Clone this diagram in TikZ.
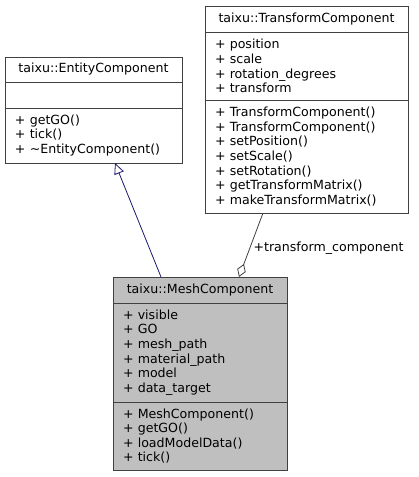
\documentclass[tikz,border=0pt]{standalone}
\usepackage{fontspec}
\setmainfont{DejaVu Sans}
\usetikzlibrary{positioning,arrows.meta}

\definecolor{umlline}{HTML}{404040}
\definecolor{inheritblue}{HTML}{191970}
\definecolor{meshgray}{HTML}{BFBFBF}

\tikzset{
  classname/.style={draw=umlline, line width=1pt, outer sep=0pt, inner xsep=10pt,
    text width=#1, align=center, minimum height=26pt,
    font=\fontsize{12.6}{14.6}\selectfont},
  classpart/.style={draw=umlline, line width=1pt, outer sep=0pt, inner xsep=10pt,
    inner ysep=5.5pt, text width=#1, align=left,
    font=\fontsize{12.6}{14.6}\selectfont},
  inherits/.style={draw=inheritblue, line width=0.8pt,
    -{Triangle[open,length=11pt,width=10pt]}},
  aggregates/.style={draw=umlline, line width=0.8pt,
    {Diamond[open,length=14pt,width=9pt]}-},
}

\begin{document}
\begin{tikzpicture}[x=1pt,y=1pt,node distance=0pt]
\useasboundingbox (0,0) rectangle (419,-477);
% Here we draw each class as three stacked parts:
% the name, the attributes and the methods
   \node[classname=183pt] (tf_name) at (306.5,-19) {taixu::TransformComponent};
   \node[classpart=183pt, minimum height=68pt] (tf_attr) [below=of tf_name]
     {+ position\\+ scale\\+ rotation\_degrees\\+ transform};
   \node[classpart=183pt, minimum height=113pt] (tf_meth) [below=of tf_attr]
     {+ TransformComponent()\\+ TransformComponent()\\+ setPosition()\\+ setScale()\\+ setRotation()\\+ getTransformMatrix()\\+ makeTransformMatrix()};

   \node[classname=157pt, minimum height=25pt] (ec_name) at (93.5,-69.5) {taixu::EntityComponent};
   \node[classpart=157pt, minimum height=26pt] (ec_attr) [below=of ec_name] {};
   \node[classpart=157pt, minimum height=55pt] (ec_meth) [below=of ec_attr]
     {+ getGO()\\+ tick()\\+ \textasciitilde EntityComponent()};

   \node[classname=154pt, fill=meshgray] (ms_name) at (200,-290) {taixu::MeshComponent};
   \node[classpart=154pt, fill=meshgray, minimum height=99pt] (ms_attr) [below=of ms_name]
     {+ visible\\+ GO\\+ mesh\_path\\+ material\_path\\+ model\\+ data\_target};
   \node[classpart=154pt, fill=meshgray, minimum height=68pt] (ms_meth) [below=of ms_attr]
     {+ MeshComponent()\\+ getGO()\\+ loadModelData()\\+ tick()};
% Here we draw the relations between the classes
   \draw[inherits] ([xshift=-39pt]ms_name.north) -- ([xshift=21.5pt]ec_meth.south);
   \draw[aggregates] ([xshift=39pt]ms_name.north)
     -- node[right, pos=0.45, font=\fontsize{12.6}{14.6}\selectfont] {+transform\_component}
     ([xshift=-43.5pt]tf_meth.south);
\end{tikzpicture}
\end{document}
